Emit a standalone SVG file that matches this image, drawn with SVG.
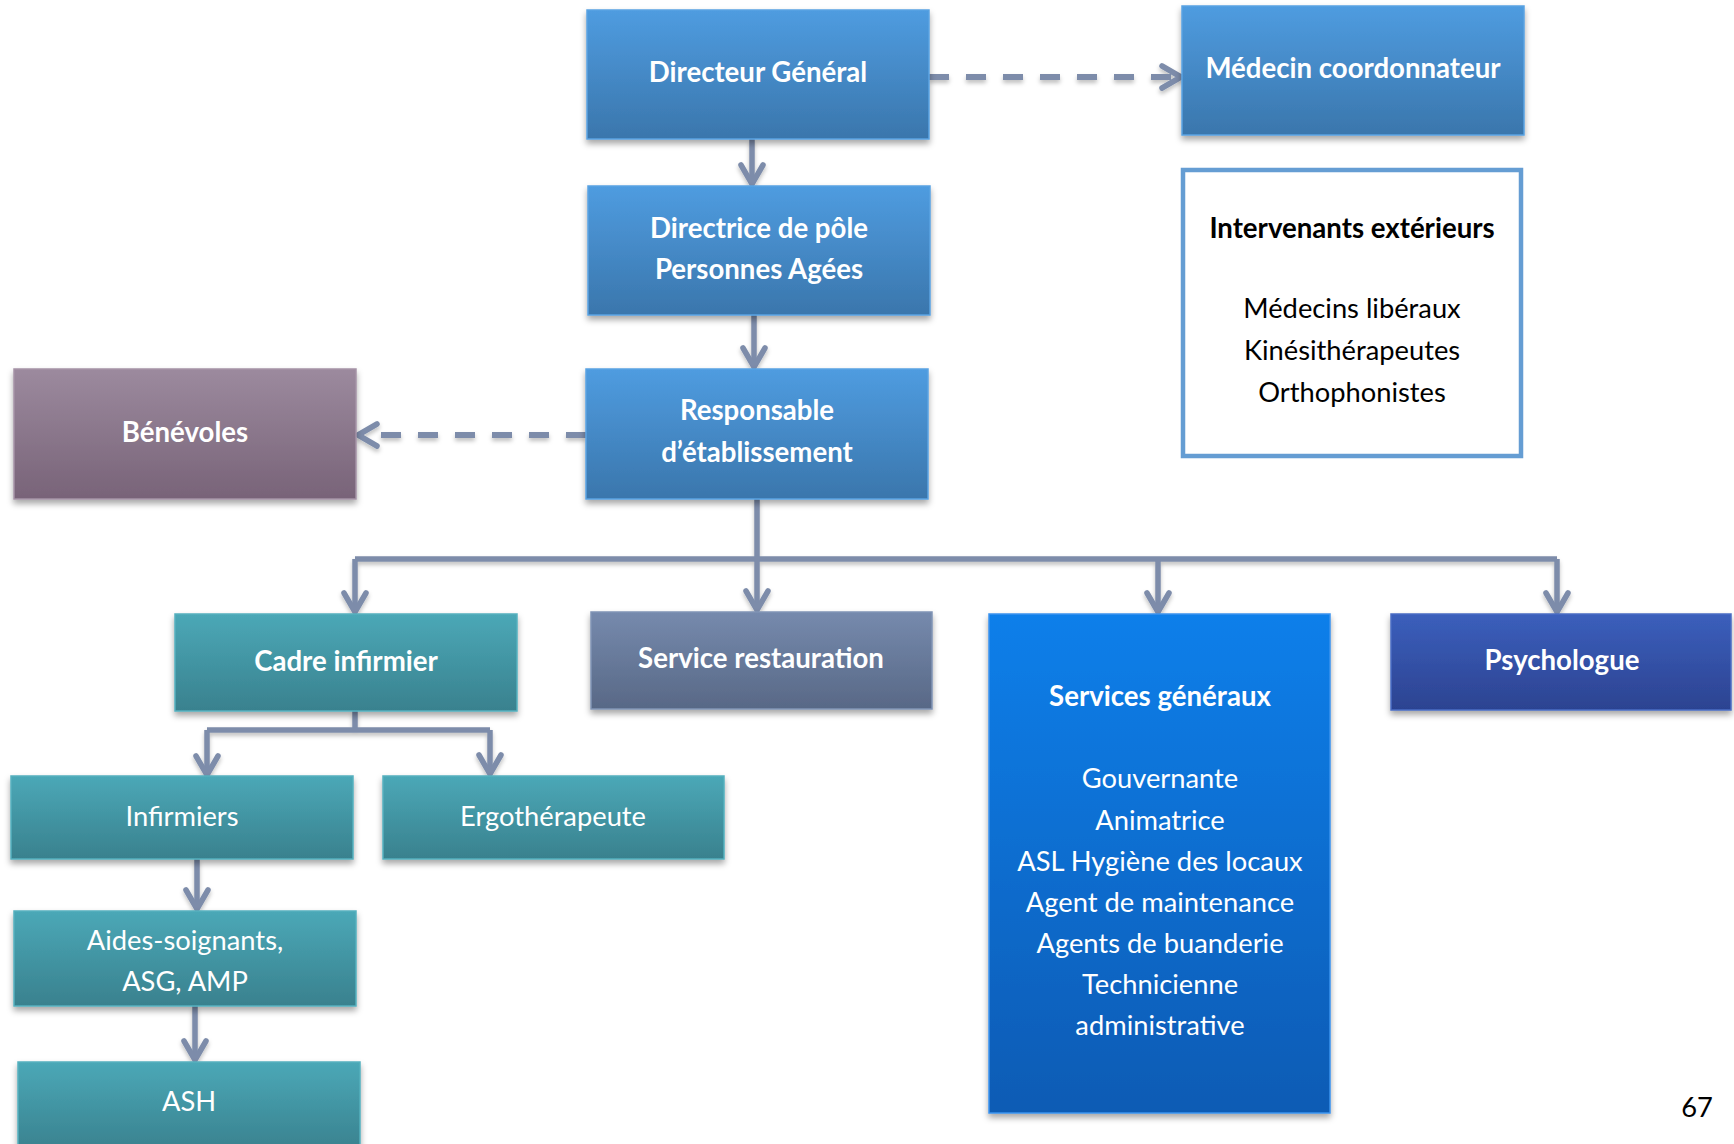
<svg xmlns="http://www.w3.org/2000/svg" width="1734" height="1144" viewBox="0 0 1734 1144">
<defs>
<linearGradient id="gBlue" x1="0" y1="0" x2="0" y2="1"><stop offset="0" stop-color="#4F9CE0"/><stop offset="1" stop-color="#3A76AC"/></linearGradient>
<linearGradient id="gMauve" x1="0" y1="0" x2="0" y2="1"><stop offset="0" stop-color="#9C8A9E"/><stop offset="1" stop-color="#786378"/></linearGradient>
<linearGradient id="gTeal" x1="0" y1="0" x2="0" y2="1"><stop offset="0" stop-color="#4BA8B7"/><stop offset="1" stop-color="#39818E"/></linearGradient>
<linearGradient id="gSlate" x1="0" y1="0" x2="0" y2="1"><stop offset="0" stop-color="#768AAD"/><stop offset="1" stop-color="#586886"/></linearGradient>
<linearGradient id="gBright" x1="0" y1="0" x2="0" y2="1"><stop offset="0" stop-color="#0E7FEA"/><stop offset="1" stop-color="#0B5BB4"/></linearGradient>
<linearGradient id="gNavy" x1="0" y1="0" x2="0" y2="1"><stop offset="0" stop-color="#3B5FBC"/><stop offset="1" stop-color="#2C4391"/></linearGradient>
<filter id="sh" x="-10%" y="-10%" width="120%" height="130%"><feDropShadow dx="0" dy="4" stdDeviation="3" flood-color="#000" flood-opacity="0.35"/></filter>
<filter id="shl" x="-10%" y="-10%" width="120%" height="130%"><feDropShadow dx="0" dy="3" stdDeviation="2" flood-color="#000" flood-opacity="0.25"/></filter>
<marker id="arr" markerUnits="userSpaceOnUse" viewBox="-26 -16 32 32" refX="0" refY="0" markerWidth="32" markerHeight="32" orient="auto">
<path d="M-19,-11 L0,0 L-19,11" fill="none" stroke="#7D8CAA" stroke-width="5.5" stroke-linecap="round" stroke-linejoin="round"/>
</marker>
</defs>
<style>
.bx{filter:url(#sh);stroke-width:1.5}
.t{font-family:Lato,"Liberation Sans",sans-serif;font-size:27.3px;fill:#fff;text-anchor:middle}
.b{font-weight:bold;font-size:27.6px}
.k{fill:#000}
.c{fill:none;stroke:#7D8CAA;stroke-width:5.5}
.d{stroke-dasharray:20 17;stroke-width:6}
</style>

<g id="connectors" filter="url(#shl)">
<path class="c" d="M752,139 V184" marker-end="url(#arr)"/>
<path class="c" d="M754,315 V367" marker-end="url(#arr)"/>
<path class="c d" d="M929,77 H1181" marker-end="url(#arr)"/>
<path class="c d" d="M586,435 H358" marker-end="url(#arr)"/>
<path class="c" d="M757,499 V559"/>
<path class="c" d="M355,559 H1557"/>
<path class="c" d="M355,559 V612" marker-end="url(#arr)"/>
<path class="c" d="M757,559 V610" marker-end="url(#arr)"/>
<path class="c" d="M1158,559 V612" marker-end="url(#arr)"/>
<path class="c" d="M1557,559 V612" marker-end="url(#arr)"/>
<path class="c" d="M355,711 V730"/>
<path class="c" d="M207,730 H490"/>
<path class="c" d="M207,730 V775" marker-end="url(#arr)"/>
<path class="c" d="M490,730 V774" marker-end="url(#arr)"/>
<path class="c" d="M197,859 V909" marker-end="url(#arr)"/>
<path class="c" d="M195,1006 V1060" marker-end="url(#arr)"/>
</g>

<g id="directeur">
<rect class="bx" x="587" y="10" width="342" height="129" fill="url(#gBlue)" stroke="#5AA3E2"/>
<text class="t b" x="758" y="82">Directeur Général</text>
</g>
<g id="medecin">
<rect class="bx" x="1182" y="6" width="342" height="129" fill="url(#gBlue)" stroke="#5AA3E2"/>
<text class="t b" x="1353" y="78">Médecin coordonnateur</text>
</g>
<g id="intervenants">
<rect x="1183" y="170" width="338" height="286" fill="#fff" stroke="#659DD3" stroke-width="4.5"/>
<text class="t b k" x="1352" y="238">Intervenants extérieurs</text>
<text class="t k" x="1352" y="318">Médecins libéraux</text>
<text class="t k" x="1352" y="360">Kinésithérapeutes</text>
<text class="t k" x="1352" y="402">Orthophonistes</text>
</g>
<g id="directrice">
<rect class="bx" x="588" y="186" width="342" height="129" fill="url(#gBlue)" stroke="#5AA3E2"/>
<text class="t b" x="759" y="238">Directrice de pôle</text>
<text class="t b" x="759" y="279">Personnes Agées</text>
</g>
<g id="responsable">
<rect class="bx" x="586" y="369" width="342" height="130" fill="url(#gBlue)" stroke="#5AA3E2"/>
<text class="t b" x="757" y="420">Responsable</text>
<text class="t b" x="757" y="462">d’établissement</text>
</g>
<g id="benevoles">
<rect class="bx" x="14" y="369" width="342" height="130" fill="url(#gMauve)" stroke="#A593A6"/>
<text class="t b" x="185" y="442">Bénévoles</text>
</g>
<g id="cadre">
<rect class="bx" x="175" y="614" width="342" height="97" fill="url(#gTeal)" stroke="#55B0BE"/>
<text class="t b" x="346" y="671">Cadre infirmier</text>
</g>
<g id="restauration">
<rect class="bx" x="591" y="612" width="341" height="97" fill="url(#gSlate)" stroke="#8094B5"/>
<text class="t b" x="761" y="668">Service restauration</text>
</g>
<g id="generaux">
<rect class="bx" x="989" y="614" width="341" height="499" fill="url(#gBright)" stroke="#3B93EE"/>
<text class="t b" x="1160" y="706">Services généraux</text>
<text class="t" x="1160" y="788">Gouvernante</text>
<text class="t" x="1160" y="830">Animatrice</text>
<text class="t" x="1160" y="871">ASL Hygiène des locaux</text>
<text class="t" x="1160" y="912">Agent de maintenance</text>
<text class="t" x="1160" y="953">Agents de buanderie</text>
<text class="t" x="1160" y="994">Technicienne</text>
<text class="t" x="1160" y="1035">administrative</text>
</g>
<g id="psychologue">
<rect class="bx" x="1391" y="614" width="340" height="96" fill="url(#gNavy)" stroke="#4A6CC4"/>
<text class="t b" x="1562" y="670">Psychologue</text>
</g>
<g id="infirmiers">
<rect class="bx" x="11" y="776" width="342" height="83" fill="url(#gTeal)" stroke="#55B0BE"/>
<text class="t" x="182" y="826">Infirmiers</text>
</g>
<g id="ergo">
<rect class="bx" x="383" y="776" width="341" height="83" fill="url(#gTeal)" stroke="#55B0BE"/>
<text class="t" x="553" y="826">Ergothérapeute</text>
</g>
<g id="aides">
<rect class="bx" x="14" y="911" width="342" height="95" fill="url(#gTeal)" stroke="#55B0BE"/>
<text class="t" x="185" y="950">Aides-soignants,</text>
<text class="t" x="185" y="991">ASG, AMP</text>
</g>
<g id="ash">
<rect class="bx" x="18" y="1062" width="342" height="90" fill="url(#gTeal)" stroke="#55B0BE"/>
<text class="t" x="189" y="1111">ASH</text>
</g>
<text class="t k" x="1697" y="1117">67</text>
</svg>
